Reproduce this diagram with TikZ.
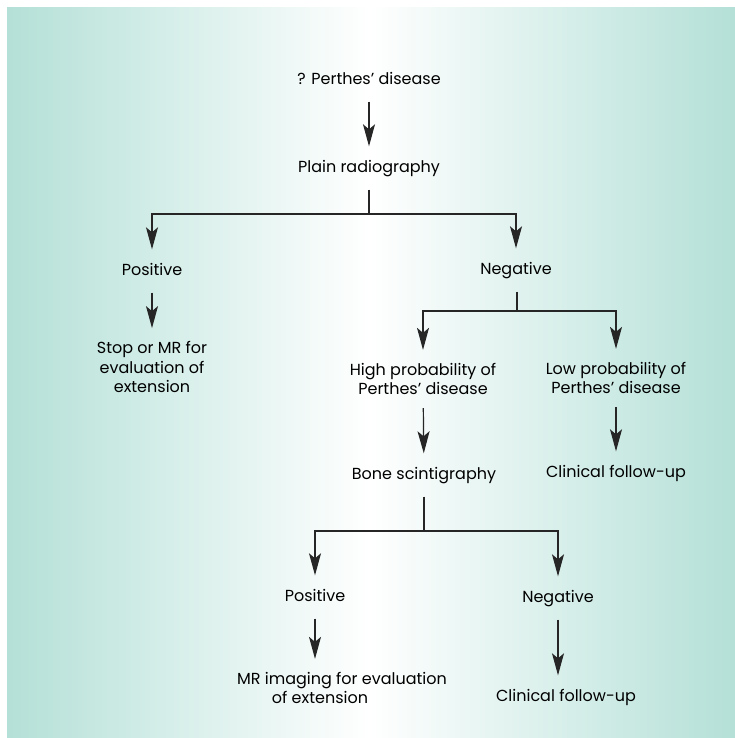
\documentclass[tikz,border=0pt]{standalone}
\usepackage{fontspec}
\setmainfont{Poppins}
\usetikzlibrary{arrows.meta}
\definecolor{teal0}{RGB}{180,224,215}
\begin{document}
\begin{tikzpicture}[x=1pt,y=-1pt,
  lbl/.style={inner xsep=0pt, inner ysep=14pt, text height=12pt, text depth=3pt, font=\fontsize{16}{19.5}\selectfont},
  mlbl/.style={inner xsep=0pt, inner ysep=13pt, align=center, font=\fontsize{16}{19.5}\selectfont},
  con/.style={line width=1.2pt, draw=black!85},
  arr/.style={con, -{Stealth[length=22pt,width=12pt,inset=5pt]}}]
\useasboundingbox (0,0) rectangle (735,738);
\fill[white] (0,0) rectangle (735,738);
\shade[left color=teal0, right color=white] (7,8) rectangle (370,738);
\shade[left color=white, right color=teal0] (369.5,8) rectangle (735,738);

\node[lbl] (q) at (369,80) {? Perthes’ disease};
\node[lbl] (plain) at (369,168) {Plain radiography};
\node[lbl] (pos1) at (152,271) {Positive};
\node[lbl] (neg1) at (516,270) {Negative};
\node[mlbl] (stop) at (152,367) {Stop or MR for\\evaluation of\\extension};
\node[mlbl] (high) at (423,379) {High probability of\\Perthes’ disease};
\node[mlbl] (low) at (616,378) {Low probability of\\Perthes’ disease};
\node[lbl] (bone) at (424,475) {Bone scintigraphy};
\node[lbl] (clin1) at (616,473) {Clinical follow-up};
\node[lbl] (pos2) at (315,597) {Positive};
\node[lbl] (neg2) at (558,598) {Negative};
\node[mlbl] (mr) at (342,688) {MR imaging for evaluation\\of extension\hspace*{44pt}};
\node[lbl] (clin2) at (566,697) {Clinical follow-up};

\coordinate (b1) at (369,214);
\coordinate (b2) at (517,311);
\coordinate (b3) at (424,531);

\draw[arr] (q) -- (plain);
\draw[con] (plain) -- (b1);
\draw[arr] (b1) -| (pos1);
\draw[arr] (b1) -| (neg1);
\draw[arr] (pos1) -- (stop);
\draw[con] (neg1.south -| b2) -- (b2);
\draw[arr] (b2) -| (high);
\draw[arr] (b2) -| (low);
\draw[arr] (high) -- (bone);
\draw[arr] (low) -- (clin1);
\draw[con] (bone) -- (b3);
\draw[arr] (b3) -| (pos2);
\draw[arr] (b3) -| (neg2);
\draw[arr] (pos2.south) -- (pos2.south |- mr.north);
\draw[arr] (neg2) -- (clin2.north -| neg2);
\end{tikzpicture}
\end{document}
